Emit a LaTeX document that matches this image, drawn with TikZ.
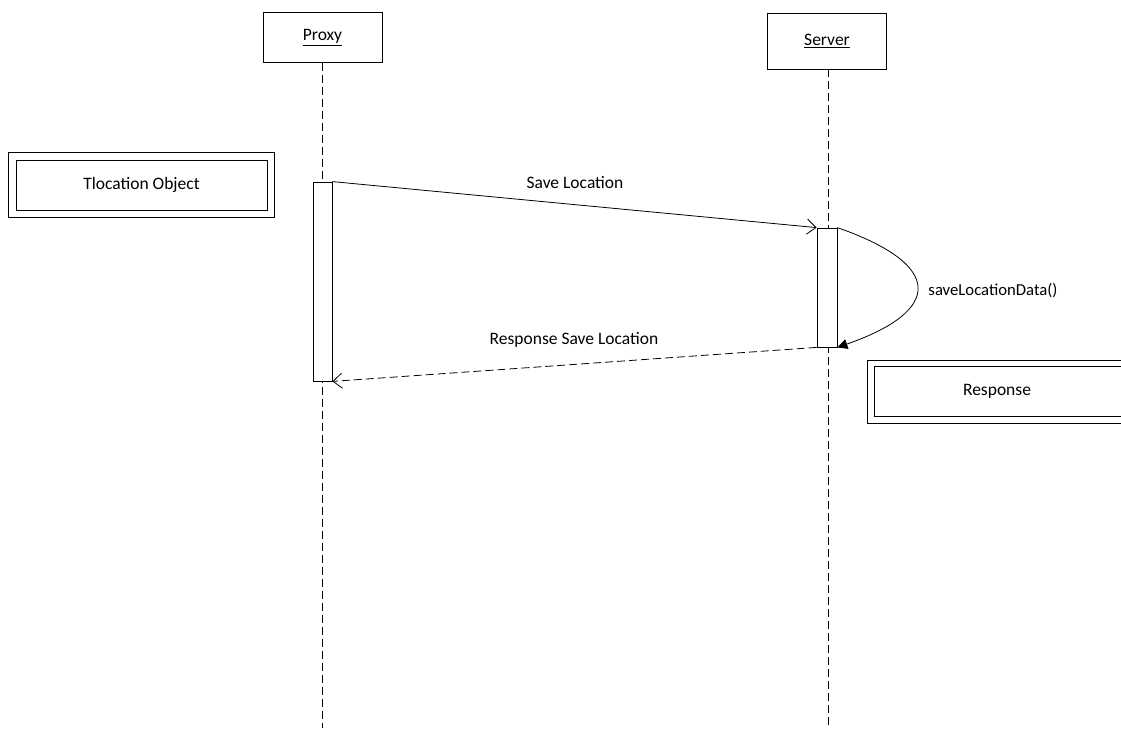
\documentclass[tikz,border=0pt]{standalone}
\usepackage{fontspec}
\setmainfont{Carlito}
\usetikzlibrary{positioning, arrows.meta}

\begin{document}
\begin{tikzpicture}[x=1pt, y=-1pt, line width=0.8pt,
    font=\fontsize{17.5}{20}\selectfont,
    head/.style={draw, minimum width=119pt, minimum height=50pt, inner sep=0pt},
    objbox/.style={draw, minimum height=50pt, inner sep=0pt},
    activ/.style={draw, fill=white, minimum width=19pt, inner sep=0pt},
    lifeline/.style={dash pattern=on 8pt off 4pt},
    msg/.style={-{Straight Barb[length=9pt, width=15pt]}},
    selfmsg/.style={-{Triangle[length=10pt, width=10pt]}}]
  \clip (0,0) rectangle (1121,728);
  % lifeline heads
  \node[head] (proxy) at (322.5,37.5) {\underline{Proxy}};
  \node[head, minimum height=56pt] (server) at (827,41) {\underline{Server}};
  \coordinate (proxyend) at (322,728);
  \coordinate (serverend) at (828,728);
  \draw[lifeline] (proxy.south -| proxyend) -- (proxyend);
  \draw[lifeline] (server.south -| serverend) -- (serverend);
  % objects (inner box, then outer frame)
  \node[objbox, minimum width=251pt] (tloc) at (141.5,185) {Tlocation Object};
  \draw ([shift={(-7pt,7pt)}]tloc.north west) rectangle ([shift={(7pt,-7pt)}]tloc.south east);
  \node[objbox, minimum width=280pt, anchor=west] (resp) at (874,391.5) {};
  \draw ([shift={(-7pt,6pt)}]resp.north west) rectangle ([shift={(7pt,-6pt)}]resp.south east);
  \node (resplab) at (997,391) {Response};
  % activation bars
  \node[activ, minimum height=199pt] (proxyact) at (322.5,281.5) {};
  \node[activ, minimum height=119pt, minimum width=20pt] (serveract) at (827,287.5) {};
  % messages
  \draw[msg] (proxyact.north east) -- (serveract.north west);
  \node (savetxt) at (575,183) {Save Location};
  \draw[selfmsg] (serveract.north east) .. controls +(106,37) and +(106,-37) .. (serveract.south east);
  \node[font=\fontsize{16.7}{19}\selectfont] (selftxt) at (993,291) {saveLocationData()};
  \draw[msg, dash pattern=on 8pt off 4pt] (serveract.south west) -- (proxyact.south east);
  \node (resptxt) at (574,340) {Response Save Location};
\end{tikzpicture}
\end{document}
